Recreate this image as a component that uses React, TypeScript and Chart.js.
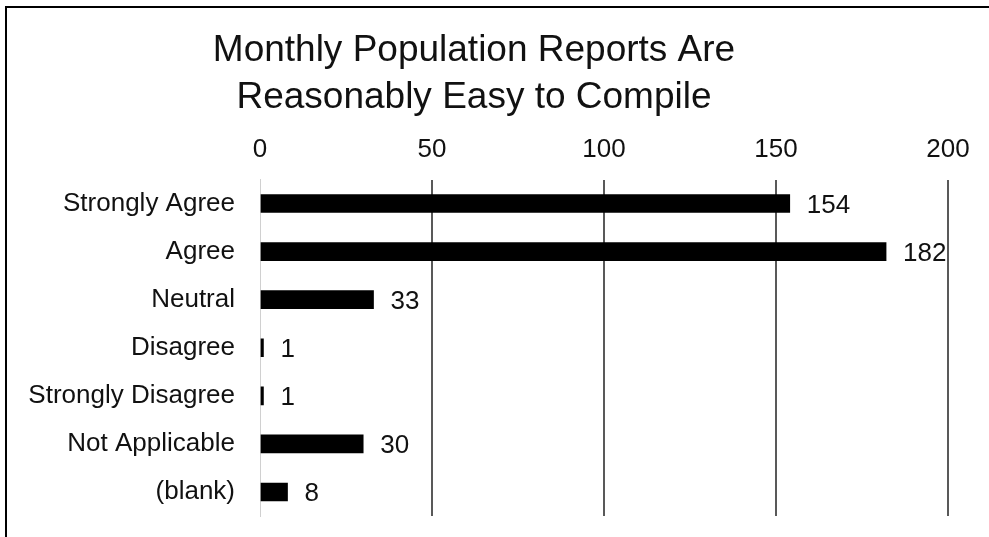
import React, { useEffect, useRef } from "react";
import { Chart, registerables } from "chart.js";

Chart.register(...registerables);

const categories = [
  "Strongly Agree",
  "Agree",
  "Neutral",
  "Disagree",
  "Strongly Disagree",
  "Not Applicable",
  "(blank)",
];
const counts = [154, 182, 33, 1, 1, 30, 8];
const titleLines = ["Monthly Population Reports Are", "Reasonably Easy to Compile"];
const axisMin = 0;
const axisMax = 200;
const axisStep = 50;

const FONT = "'Liberation Sans', Arial, sans-serif";

const valueLabels = {
  id: "valueLabels",
  afterDatasetsDraw(chart: any) {
    const ctx = chart.ctx;
    const meta = chart.getDatasetMeta(0);
    ctx.save();
    ctx.font = `26px ${FONT}`;
    ctx.fillStyle = "#111";
    ctx.textAlign = "left";
    ctx.textBaseline = "middle";
    meta.data.forEach((bar: any, i: number) => {
      ctx.fillText(String(counts[i]), bar.x + 17, bar.y + 2);
    });
    ctx.restore();
  },
};

export default function App() {
  const ref = useRef<HTMLCanvasElement | null>(null);

  useEffect(() => {
    document.body.style.margin = "0";
    if (!ref.current) return;
    const chart = new Chart(ref.current, {
      type: "bar",
      data: {
        labels: categories,
        datasets: [
          {
            data: counts,
            backgroundColor: "#000",
            borderWidth: 0,
            barThickness: 18,
          },
        ],
      },
      options: {
        indexAxis: "y",
        animation: false,
        responsive: true,
        maintainAspectRatio: false,
        layout: { padding: { left: 0, right: 41, top: 0, bottom: 21 } },
        plugins: {
          legend: { display: false },
          tooltip: { enabled: false },
          title: {
            display: true,
            text: titleLines,
            color: "#111",
            font: { family: FONT, size: 37, weight: "normal", lineHeight: 1.25 },
            padding: { top: 28, bottom: 0 },
          },
        },
        scales: {
          x: {
            position: "top",
            min: axisMin,
            max: axisMax,
            ticks: {
              stepSize: axisStep,
              color: "#111",
              font: { family: FONT, size: 26 },
              padding: 14,
            },
            grid: {
              drawTicks: false,
              lineWidth: 2,
              color: (c: any) => (c.tick && c.tick.value === 0 ? "rgba(0,0,0,0)" : "#595959"),
            },
            border: { display: false },
            afterFit: (scale: any) => {
              scale.height = 59;
            },
          },
          y: {
            ticks: {
              color: "#111",
              font: { family: FONT, size: 26 },
              padding: 25,
            },
            grid: { display: false, drawTicks: false },
            border: { display: true, color: "#d0d0d0", width: 1 },
            afterFit: (scale: any) => {
              scale.width = 260;
              scale.paddingTop = 0;
              scale.paddingBottom = 0;
            },
          },
        },
      },
      plugins: [valueLabels],
    });
    return () => chart.destroy();
  }, []);

  return (
    <div style={{ position: "relative", width: 989, height: 537, background: "#fff" }}>
      <canvas ref={ref} />
      <div
        style={{
          position: "absolute",
          left: 5,
          top: 6,
          right: 0,
          bottom: 0,
          borderLeft: "2px solid #000",
          borderTop: "2px solid #000",
          pointerEvents: "none",
        }}
      />
    </div>
  );
}
